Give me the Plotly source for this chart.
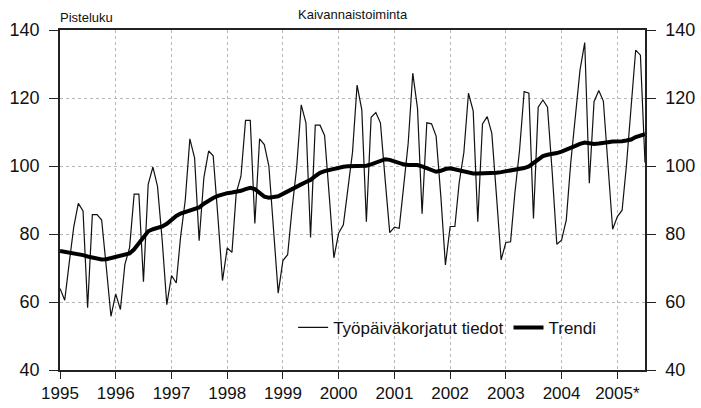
import pandas as pd
import plotly.graph_objects as go

# Työpäiväkorjatut tiedot, kuukausittain 1/1995 - 7/2005
raw = [
    64.0, 60.5, 71.0, 82.0, 89.0, 86.8, 58.3, 85.7, 85.7, 84.1, 70.0, 55.8,
    62.4, 57.8, 71.0, 76.0, 91.7, 91.7, 66.0, 94.6, 99.7, 94.0, 78.0, 59.2,
    67.8, 65.6, 79.0, 90.0, 108.0, 102.4, 78.0, 96.6, 104.4, 103.0, 85.0, 66.3,
    75.9, 74.6, 92.0, 97.0, 113.4, 113.4, 83.1, 108.0, 106.3, 100.0, 81.0, 62.6,
    72.2, 73.9, 87.0, 99.5, 118.0, 112.7, 79.0, 112.0, 112.0, 109.0, 91.0, 73.0,
    80.2, 82.7, 93.0, 104.0, 123.8, 116.5, 83.6, 114.3, 115.7, 112.7, 96.0, 80.4,
    82.0, 81.7, 93.5, 106.7, 127.3, 117.0, 86.0, 112.7, 112.4, 108.8, 91.0, 70.9,
    82.2, 82.2, 95.0, 104.0, 121.4, 116.2, 83.6, 112.4, 114.5, 109.6, 91.0, 72.4,
    77.5, 77.7, 92.0, 104.7, 121.9, 121.4, 84.6, 117.3, 119.4, 117.3, 98.0, 77.0,
    78.2, 84.1, 100.8, 114.5, 128.2, 136.3, 94.9, 118.9, 122.2, 119.1, 100.0, 81.4,
    85.1, 87.0, 100.0, 117.0, 134.1, 132.6, 101.0,
]

trend = [
    75.0, 74.8, 74.6, 74.4, 74.1, 73.8, 73.4, 73.0, 72.7, 72.5, 72.6, 72.9,
    73.4, 73.6, 73.9, 74.3, 75.5, 77.2, 79.2, 80.8, 81.4, 81.7, 82.2, 83.0,
    84.2, 85.3, 86.0, 86.4, 86.8, 87.2, 87.8, 88.9, 89.8, 90.6, 91.2, 91.7,
    92.0, 92.2, 92.4, 92.7, 93.2, 93.6, 93.2, 92.0, 91.0, 90.7, 90.8, 91.1,
    91.8, 92.6, 93.3, 94.0, 94.6, 95.3, 95.9, 97.0, 98.0, 98.5, 98.9, 99.2,
    99.5, 99.8, 99.9, 100.0, 100.0, 100.0, 100.1, 100.5, 101.0, 101.6, 102.0, 101.8,
    101.3, 100.9, 100.5, 100.3, 100.3, 100.3, 99.9, 99.3, 98.7, 98.3, 98.6, 99.1,
    99.3, 99.0, 98.6, 98.2, 97.9, 97.8, 97.8, 97.8, 97.9, 98.0, 98.0, 98.2,
    98.4, 98.6, 98.9, 99.1, 99.4, 99.9, 100.8, 102.0, 102.9, 103.3, 103.5, 103.8,
    104.2, 104.7, 105.3, 105.9, 106.5, 106.9, 106.7, 106.5, 106.6, 106.9, 107.0, 107.2,
    107.2, 107.3, 107.5, 107.8, 108.5, 109.0, 109.4,
]

years = list(range(1995, 2006))
year_labels = ["1995", "1996", "1997", "1998", "1999", "2000",
               "2001", "2002", "2003", "2004", "2005*"]
y_ticks = [40, 60, 80, 100, 120, 140]

months = pd.date_range("1995-01-01", periods=len(raw), freq="MS")
year_starts = [pd.Timestamp(year=y, month=1, day=1) for y in years]

FONT = "Liberation Sans, Arial, sans-serif"
AXIS = "#222222"
GRID = "#b8b8b8"

fig = go.Figure()
fig.add_trace(go.Scatter(
    x=months, y=raw, mode="lines", name="Työpäiväkorjatut tiedot",
    line=dict(color="#111111", width=1.2),
))
# trendi oikeanpuoleiselle akselille, jotta akseli piirtyy
fig.add_trace(go.Scatter(
    x=months, y=trend, mode="lines", name="Trendi", yaxis="y2",
    line=dict(color="#000000", width=4),
))

yaxis_common = dict(
    range=[40, 140], tickvals=y_ticks, ticks="outside", ticklen=9,
    tickcolor=AXIS, tickwidth=1.2, showline=True, linecolor=AXIS, linewidth=1.5,
    tickfont=dict(family=FONT, size=18, color="#111111"), zeroline=False,
    ticklabelstandoff=6, automargin=False,
)

fig.update_layout(
    width=701, height=408,
    margin=dict(l=60, r=56, t=30, b=38),
    paper_bgcolor="white", plot_bgcolor="white",
    font=dict(family=FONT, color="#111111"),
    showlegend=True,
    legend=dict(
        orientation="h", x=0.925, xanchor="right", y=0.124, yanchor="middle",
        font=dict(family=FONT, size=17), bgcolor="rgba(0,0,0,0)",
        itemwidth=30, tracegroupgap=0,
    ),
    xaxis=dict(
        range=[months[0], months[-1]], tickvals=year_starts, ticktext=year_labels,
        ticks="outside", ticklen=7, tickcolor=AXIS, tickwidth=1.2,
        showline=True, linecolor=AXIS, linewidth=1.5, mirror=True,
        showgrid=True, gridcolor=GRID, griddash="dot", gridwidth=1,
        tickfont=dict(family=FONT, size=17, color="#111111"),
        ticklabelstandoff=0, automargin=False,
    ),
    yaxis=dict(
        **yaxis_common, side="left",
        showgrid=True, gridcolor=GRID, griddash="dot", gridwidth=1,
    ),
    yaxis2=dict(**yaxis_common, side="right", overlaying="y", showgrid=False),
    annotations=[
        dict(text="Pisteluku", xref="paper", yref="paper", x=-0.004, y=1.008,
             xanchor="left", yanchor="bottom", showarrow=False,
             font=dict(family=FONT, size=13, color="#111111")),
        dict(text="Kaivannaistoiminta", xref="paper", yref="paper", x=0.5, y=1.075,
             xanchor="center", yanchor="top", showarrow=False,
             font=dict(family=FONT, size=13, color="#111111")),
    ],
)

# selaimen oletusmarginaali pois, jotta kuva alkaa ikkunan kulmasta
fig.write_html(
    "out.html",
    config={"displayModeBar": False},
    post_script="document.body.style.margin='0';",
)
